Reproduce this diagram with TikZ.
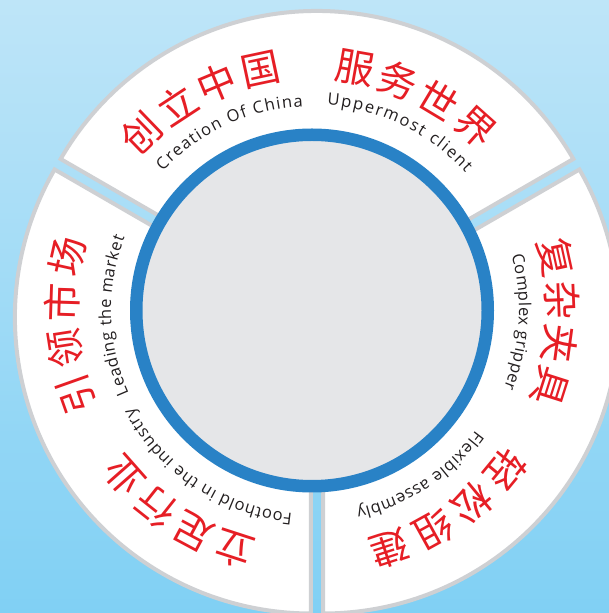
\documentclass[tikz,border=0pt]{standalone}
\usepackage{fontspec}
\newfontfamily\cjk{Noto Sans CJK SC}
\newfontfamily\enfont{Open Sans}
\usetikzlibrary{decorations.text,calc}
\definecolor{bgtop}{RGB}{190,229,248}
\definecolor{bgbot}{RGB}{128,208,244}
\definecolor{seggray}{RGB}{206,208,211}
\definecolor{ringblue}{RGB}{41,130,198}
\definecolor{innergray}{RGB}{229,230,232}
\definecolor{cnred}{RGB}{230,30,37}
\definecolor{entxt}{RGB}{35,31,32}
\begin{document}
\begin{tikzpicture}[x=1pt,y=1pt,
  seg/.style={fill=white, draw=seggray, line width=4pt, line join=miter},
  cn/.style={font=\cjk\fontsize{39}{39}\selectfont, text=cnred, inner sep=0pt},
  entext/.style={decorate, decoration={text along path, text color=entxt,
      text align=fit to path,
      text={|\enfont\fontsize{16.5}{16.5}\selectfont|#1}}}]
\useasboundingbox (0,0) rectangle (609,613);
\clip (0,0) rectangle (609,613);
\shade[top color=bgtop, bottom color=bgbot] (0,0) rectangle (609,613);

% segment centres
\coordinate (St) at (317,306);
\coordinate (Sl) at (310.94,295.5);
\coordinate (Sr) at (323.06,295.5);
\coordinate (B) at (312,302.5);

\draw[seg] ([shift={(30:140)}]St) -- ([shift={(30:296)}]St)
  arc[start angle=30,end angle=150,radius=296] -- ([shift={(150:140)}]St)
  arc[start angle=150,end angle=30,radius=140] -- cycle;
\draw[seg] ([shift={(150:140)}]Sl) -- ([shift={(150:296)}]Sl)
  arc[start angle=150,end angle=270,radius=296] -- ([shift={(270:140)}]Sl)
  arc[start angle=270,end angle=150,radius=140] -- cycle;
\draw[seg] ([shift={(270:140)}]Sr) -- ([shift={(270:296)}]Sr)
  arc[start angle=270,end angle=390,radius=296] -- ([shift={(390:140)}]Sr)
  arc[start angle=390,end angle=270,radius=140] -- cycle;

% central disc
\node[circle, minimum size=351.5pt, inner sep=0pt, fill=innergray, draw=ringblue, line width=12.5pt] (core) at (B) {};

% Chinese characters
\foreach \ang/\ch/\nm in {134/创/a1,123.3/立/a2,112.7/中/a3,102/国/a4}
  \node[cn, rotate=\ang-90] (\nm) at ([shift={(\ang:246)}]B) {\ch};
\foreach \ang/\ch/\nm in {80/服/b1,69.5/务/b2,59/世/b3,48.3/界/b4}
  \node[cn, rotate=\ang-90] (\nm) at ([shift={(\ang:246)}]B) {\ch};
\foreach \ang/\ch/\nm in {12.3/复/c1,2.3/杂/c2,-7.7/夹/c3,-17.7/具/c4}
  \node[cn, rotate=\ang-90] (\nm) at ([shift={(\ang:250)}]B) {\ch};
\foreach \ang/\ch/\nm in {-39.5/轻/d1,-50.3/松/d2,-61.1/组/d3,-71.9/建/d4}
  \node[cn, rotate=\ang-90] (\nm) at ([shift={(\ang:251)}]B) {\ch};
\foreach \ang/\ch/\nm in {252/立/e1,241.8/足/e2,231.6/行/e3,221.4/业/e4}
  \node[cn, rotate=\ang-90] (\nm) at ([shift={(\ang:251)}]B) {\ch};
\foreach \ang/\ch/\nm in {199.5/引/f1,188.8/领/f2,178.2/市/f3,167.5/场/f4}
  \node[cn, rotate=\ang-90] (\nm) at ([shift={(\ang:250)}]B) {\ch};

% English captions along arcs
\path[entext={Creation Of China}] ([shift={(137:204)}]B) arc[start angle=137,end angle=92.5,radius=204];
\path[entext={Uppermost client}] ([shift={(85.8:206)}]B) arc[start angle=85.8,end angle=41.8,radius=206];
\path[entext={Complex gripper}] ([shift={(15.5:207)}]B) arc[start angle=15.5,end angle=-22,radius=207];
\path[entext={Flexible assembly}] ([shift={(-36.3:203)}]B) arc[start angle=-36.3,end angle=-77.4,radius=203];
\path[entext={Foothold in the industry}] ([shift={(264.5:204)}]B) arc[start angle=264.5,end angle=208.5,radius=204];
\path[entext={Leading the market}] ([shift={(204.3:201)}]B) arc[start angle=204.3,end angle=158.7,radius=201];
\end{tikzpicture}
\end{document}
